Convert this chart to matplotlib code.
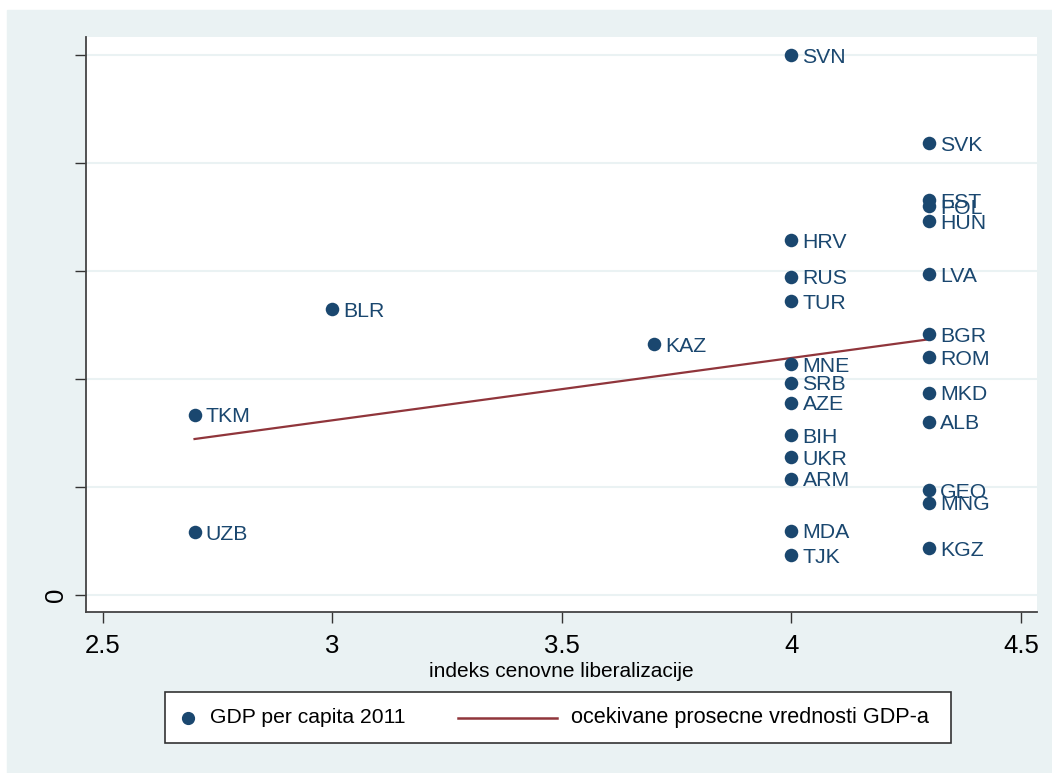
import matplotlib
matplotlib.use("Agg")
from matplotlib import pyplot as plt
from matplotlib.patches import Rectangle
from matplotlib.lines import Line2D

# country codes, price liberalization index, GDP per capita 2011
countries = ["TKM", "UZB", "BLR", "KAZ",
             "SVN", "HRV", "RUS", "TUR", "MNE", "SRB", "AZE", "BIH", "UKR", "ARM", "MDA", "TJK",
             "SVK", "EST", "POL", "HUN", "LVA", "BGR", "ROM", "MKD", "ALB", "GEO", "MNG", "KGZ"]
index = [2.7, 2.7, 3.0, 3.7,
         4.0, 4.0, 4.0, 4.0, 4.0, 4.0, 4.0, 4.0, 4.0, 4.0, 4.0, 4.0,
         4.3, 4.3, 4.3, 4.3, 4.3, 4.3, 4.3, 4.3, 4.3, 4.3, 4.3, 4.3]
gdp = [8330, 2900, 13230, 11610,
       24980, 16420, 14720, 13600, 10670, 9820, 8890, 7400, 6370, 5370, 2975, 1850,
       20900, 18270, 17990, 17300, 14830, 12060, 10990, 9360, 8020, 4860, 4270, 2160]

# fitted values (expected mean GDP) at the ends of the index range
fit_x = [2.7, 4.3]
fit_y = [7215, 11830]

x_ticks = [2.5, 3, 3.5, 4, 4.5]
y_ticks = [0, 5000, 10000, 15000, 20000, 25000]
legend_labels = ["GDP per capita 2011", "ocekivane prosecne vrednosti GDP-a"]

NAVY = "#1A476F"
MAROON = "#90353B"
BG = "#EAF2F3"
W, H = 1052, 773


def px(x, y):
    # pixel position (from top-left) -> figure fraction
    return x / W, 1 - y / H


def main():
    plt.rcParams["font.family"] = ["Liberation Sans", "DejaVu Sans"]

    fig = plt.figure(figsize=(W / 100, H / 100), dpi=100, facecolor="white")
    # graph region background
    fig.patches.append(Rectangle((7 / W, 0), 1, 1 - 10 / H,
                                 transform=fig.transFigure, color=BG, zorder=-10))

    ax = fig.add_axes([86 / W, 1 - 612 / H, (1037 - 86) / W, (612 - 37) / H])
    ax.set_facecolor("white")

    ax.scatter(index, gdp, s=95, color=NAVY, zorder=3, linewidths=0)
    for c, xv, yv in zip(countries, index, gdp):
        ax.annotate(c, (xv, yv), xytext=(8, -1.5), textcoords="offset points",
                    ha="left", va="center", fontsize=15.3, color=NAVY, zorder=4)

    ax.plot(fit_x, fit_y, color=MAROON, lw=1.6, zorder=2)

    ax.set_xlim(2.4636, 4.5348)
    ax.set_ylim(-786, 25810)
    ax.set_xticks(x_ticks)
    ax.set_xticklabels(["2.5", "3", "3.5", "4", "4.5"], fontsize=18.5)
    ax.set_yticks(y_ticks)
    ax.set_yticklabels(["0", "", "", "", "", ""], fontsize=18.5, rotation=90, va="center")
    ax.tick_params(axis="x", length=8, width=1, color="#333333", pad=8)
    ax.tick_params(axis="y", length=8, width=1, color="#333333", pad=5)

    for yv in y_ticks:
        ax.axhline(yv, color=BG, lw=1.5, zorder=1)

    for s in ["top", "right"]:
        ax.spines[s].set_visible(False)
    for s in ["left", "bottom"]:
        ax.spines[s].set_color("#444444")
        ax.spines[s].set_linewidth(1.3)

    ax.set_xlabel("indeks cenovne liberalizacije", fontsize=15, labelpad=3)

    # legend box drawn by hand so the keys sit like in Stata
    x0, y0 = px(165, 743)
    x1, y1 = px(951, 692)
    fig.add_artist(Rectangle((x0, y0), x1 - x0, y1 - y0, transform=fig.transFigure,
                             facecolor="white", edgecolor="#333333", lw=1.2))
    ly = px(0, 717.5)[1]
    fig.add_artist(Line2D([188 / W], [ly], ls="none", marker="o", markersize=8.5,
                          color=NAVY, transform=fig.transFigure))
    fig.text(210 / W, ly, legend_labels[0], fontsize=15.2, va="center", ha="left")
    fig.add_artist(Line2D([458 / W, 557 / W], [ly, ly], color=MAROON, lw=1.8,
                          transform=fig.transFigure))
    fig.text(571 / W, ly, legend_labels[1], fontsize=15.6, va="center", ha="left")

    fig.savefig("out.png", dpi=100, facecolor=fig.get_facecolor())


if __name__ == "__main__":
    main()
